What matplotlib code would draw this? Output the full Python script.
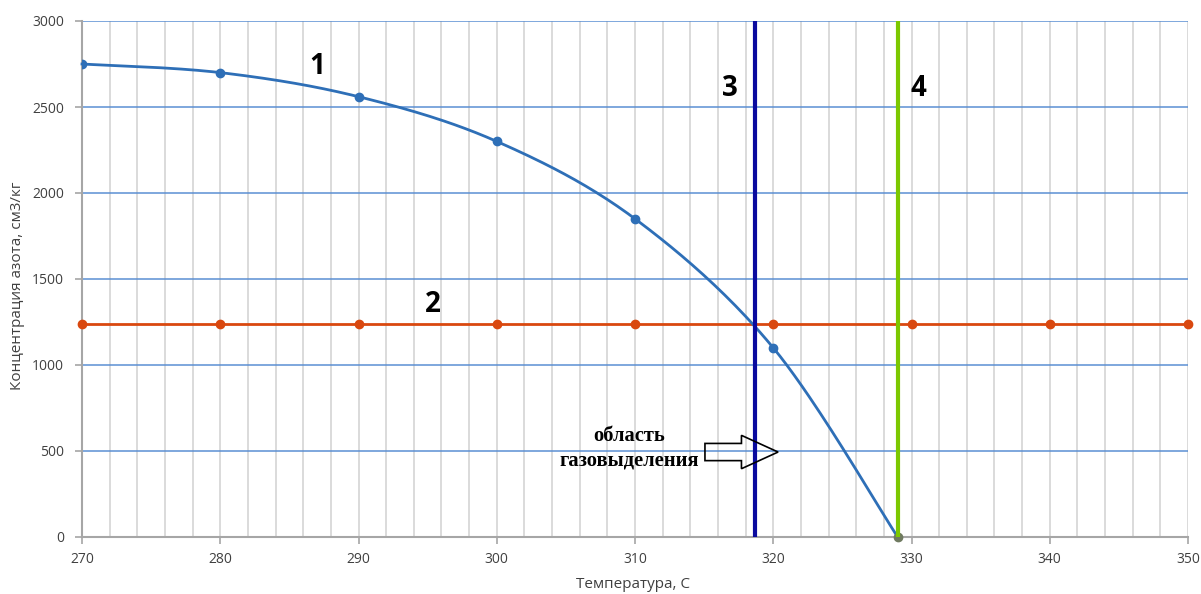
import numpy as np
import matplotlib
matplotlib.use("Agg")
import matplotlib.pyplot as plt
from matplotlib.patches import Polygon

# ---- data ----
temp1 = [270, 280, 290, 300, 310, 320, 329]
conc1 = [2750, 2700, 2560, 2300, 1850, 1100, 0]
temp2 = [270, 280, 290, 300, 310, 320, 330, 340, 350]
conc2 = [1240] * 9
vline3 = 318.7
vline4 = 329.0
xticks = list(range(270, 351, 10))
yticks = list(range(0, 3001, 500))
xlabel = "Температура, С"
ylabel = "Концентрация азота, см3/кг"
region_text = "область\nгазовыделения"

# ---- smoothing (Excel-like bezier rendering of the series) ----
def smooth(xs, ys, n=40):
    P = np.column_stack([xs, ys]).astype(float)
    m = len(P)
    out = []
    for i in range(m - 1):
        p0 = P[i - 1] if i > 0 else P[i]
        p1 = P[i]
        p2 = P[i + 1]
        p3 = P[i + 2] if i + 2 < m else P[i + 1]
        c1 = p1 + (p2 - p0) / 6.0
        c2 = p2 - (p3 - p1) / 6.0
        t = np.linspace(0, 1, n)[:, None]
        seg = ((1 - t) ** 3) * p1 + 3 * ((1 - t) ** 2) * t * c1 + 3 * (1 - t) * t ** 2 * c2 + t ** 3 * p2
        out.append(seg if i == 0 else seg[1:])
    out = np.vstack(out)
    return out[:, 0], out[:, 1]

W, H = 1201, 594
fig = plt.figure(figsize=(W / 100, H / 100), dpi=100)
ax = fig.add_axes([82 / W, 1 - 537 / H, (1188 - 82) / W, (537 - 21) / H])

ax.set_xlim(270, 350)
ax.set_ylim(0, 3000)
ax.set_xticks(xticks)
ax.set_yticks(yticks)

ax.grid(False)
for xv in np.arange(272, 351, 2):
    ax.axvline(xv, color="#dadada", lw=1.4, zorder=0)
for yv in yticks[1:]:
    ax.axhline(yv, color="#5b8fd3", lw=1.1, zorder=0.5)

for s in ["top", "right"]:
    ax.spines[s].set_visible(False)
for s in ["left", "bottom"]:
    ax.spines[s].set_color("#a6a6a6")
    ax.spines[s].set_linewidth(1.5)
ax.tick_params(axis="both", which="major", direction="out", length=5, width=1.2,
               color="#a6a6a6", labelcolor="#404040", labelsize=10)
ax.tick_params(axis="y", pad=8)
ax.tick_params(axis="x", pad=6)
for lab in ax.get_xticklabels() + ax.get_yticklabels():
    lab.set_fontfamily("Open Sans")

# series 2
ax.plot(temp2, conc2, color="#d9480f", lw=2.0, marker="o", ms=6, zorder=3, clip_on=False)

# series 1
sx, sy = smooth(temp1, conc1)
ax.plot(sx, sy, color="#2e6fb7", lw=2.0, zorder=4, clip_on=False)
ax.plot(temp1[:-1], conc1[:-1], "o", color="#2e6fb7", ms=6, zorder=4)
ax.plot(temp1[-1:], conc1[-1:], "o", color="#6f7a60", ms=6, zorder=4, clip_on=False)

# vertical lines
ax.axvline(vline3, color="#0a0a9e", lw=3.0, zorder=5)
ax.axvline(vline4, color="#7cc800", lw=3.0, zorder=5)

# number labels
lab_kw = dict(fontsize=20, fontweight="bold", fontfamily="Open Sans", color="black",
              ha="center", va="center", zorder=6)
ax.text(287.0, 2738, "1", **lab_kw)
ax.text(295.4, 1349, "2", **lab_kw)
ax.text(316.9, 2610, "3", **lab_kw)
ax.text(330.5, 2610, "4", **lab_kw)

# region text + hollow arrow
ax.text(309.6, 514, region_text, fontsize=14.8, fontweight="bold",
        fontfamily="Liberation Serif", ha="center", va="center", linespacing=1.3, zorder=6)
x0, xh, x1 = 315.06, 317.7, 320.35
yc, hs, hh = 494, 50, 97
arrow = Polygon([[x0, yc - hs], [xh, yc - hs], [xh, yc - hh], [x1, yc],
                 [xh, yc + hh], [xh, yc + hs], [x0, yc + hs]], closed=True,
                facecolor="none", edgecolor="black", lw=1.2, zorder=6)
ax.add_patch(arrow)

fig.text(633 / W, 1 - 585 / H, xlabel, fontsize=11, fontfamily="Open Sans",
         color="#404040", ha="center", va="center")
fig.text(18 / W, 1 - 286 / H, ylabel, fontsize=11, fontfamily="Open Sans",
         color="#404040", ha="center", va="center", rotation=90)

fig.savefig("out.png", dpi=100)
